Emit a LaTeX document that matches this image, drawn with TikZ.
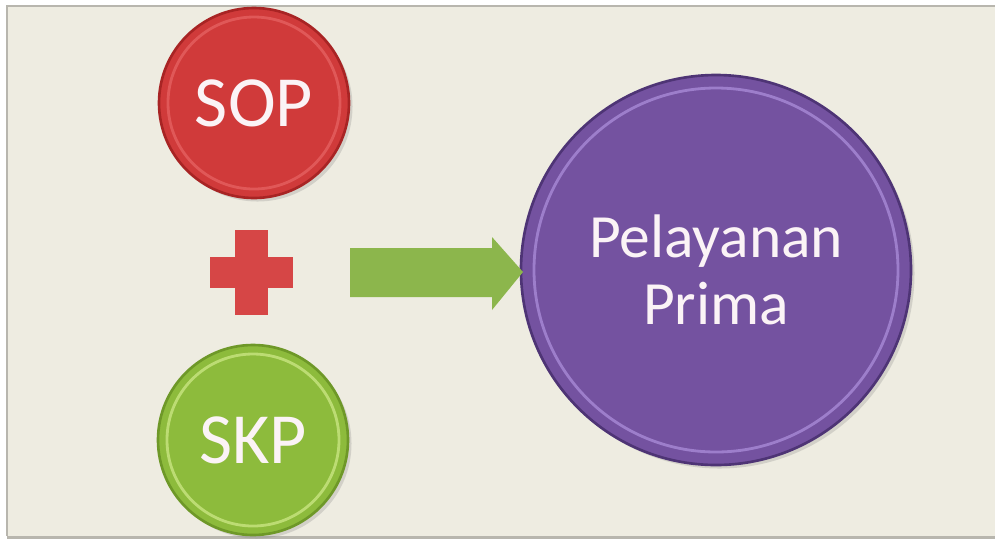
\documentclass[tikz,border=0pt]{standalone}
\usepackage{fontspec}
\setmainfont{Carlito}
\usetikzlibrary{shadows}
\definecolor{bg}{HTML}{EEECE1}
\definecolor{framec}{HTML}{B8B6AE}
\definecolor{redc}{HTML}{D03A3A}
\definecolor{redd}{HTML}{A82424}
\definecolor{redl}{HTML}{E56060}
\definecolor{greenc}{HTML}{8DBB3C}
\definecolor{greend}{HTML}{6E9828}
\definecolor{greenl}{HTML}{C2E07A}
\definecolor{purc}{HTML}{7452A0}
\definecolor{purd}{HTML}{4E3475}
\definecolor{purl}{HTML}{A88AD6}
\definecolor{plusc}{HTML}{D64646}
\definecolor{arrc}{HTML}{8CB64C}
\definecolor{txtc}{HTML}{FBF3F6}
\tikzset{
  ball/.style={circle, inner sep=0pt, text=txtc, align=center,
    drop shadow={shadow xshift=2pt, shadow yshift=-2pt, opacity=0.25}},
}
\begin{document}
\begin{tikzpicture}[x=0.02cm,y=-0.02cm]
\useasboundingbox (0,0) rectangle (995,539);
\fill[white] (0,0) rectangle (995,539);
\fill[bg] (7,6) rectangle (995,536);
\draw[framec, line width=1.2pt] (7,536) -- (7,6) -- (995,6);
\draw[framec, line width=1.5pt] (7,537.5) -- (995,537.5);
% circles
\node[ball, minimum size=190*0.02cm, fill=redc, draw=redd, line width=1.5pt,
  font=\fontsize{41}{43}\selectfont] (sop) at (254,103) {SOP};
\draw[redl, line width=1.6pt, opacity=0.8] (sop.center) circle[radius=0.02*86cm];
\node[ball, minimum size=190*0.02cm, fill=greenc, draw=greend, line width=1.5pt,
  font=\fontsize{41}{43}\selectfont] (skp) at (253,440) {SKP};
\draw[greenl, line width=1.6pt, opacity=0.9] (skp.center) circle[radius=0.02*86cm];
\node[ball, minimum size=390*0.02cm, fill=purc, draw=purd, line width=1.5pt,
  font=\fontsize{35}{38}\selectfont] (pp) at (716,270) {Pelayanan\\Prima};
\draw[purl, line width=1.6pt, opacity=0.8] (pp.center) circle[radius=0.02*182cm];
% plus sign
\fill[plusc] (210,257) rectangle (293,288);
\fill[plusc] (235,230) rectangle (268,315);
\coordinate (plus) at (252,272);
% block arrow
\fill[arrc] (350,248) -- (492,248) -- (492,237) -- (523,272) -- (492,310) -- (492,297) -- (350,297) -- cycle;
\end{tikzpicture}
\end{document}
